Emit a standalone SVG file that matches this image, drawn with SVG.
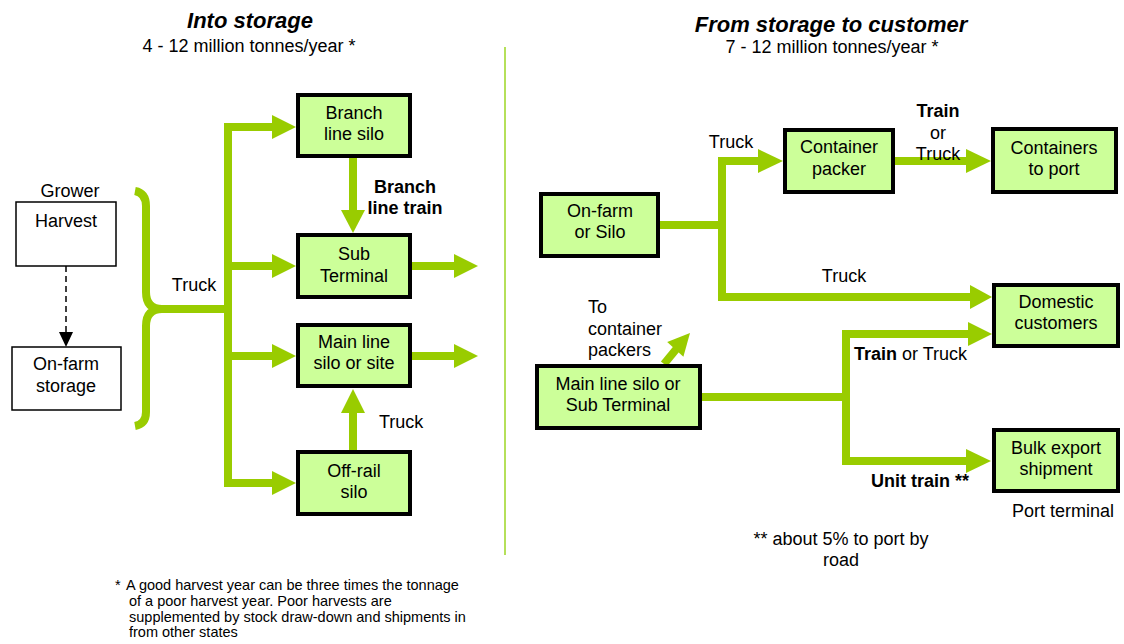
<svg xmlns="http://www.w3.org/2000/svg" width="1124" height="644" viewBox="0 0 1124 644">
<style>
text{font-family:"Liberation Sans",Arial,sans-serif;font-size:18px;fill:#000}
.t{font-size:22px;font-weight:bold;font-style:italic}
.c{text-anchor:middle}
.b{font-weight:bold}
.fn{font-size:14.5px}
.box{fill:#ccff99;stroke:#000;stroke-width:4}
.wbox{fill:#fff;stroke:#000;stroke-width:1.5}
.g{fill:none;stroke:#99cc00;stroke-width:8;stroke-linejoin:miter}
.h{fill:#99cc00}
</style>
<rect width="1124" height="644" fill="#fff"/>
<line x1="505" y1="47" x2="505" y2="555" stroke="#b5e05a" stroke-width="2"/>

<g id="titles">
<text class="t c" x="250" y="28">Into storage</text>
<text class="c" x="249" y="52">4 - 12 million tonnes/year *</text>
<text class="t c" x="831" y="32">From storage to customer</text>
<text class="c" x="832" y="53">7 - 12 million tonnes/year *</text>
</g>

<g id="connectors">
<line x1="66" y1="266" x2="66" y2="333" stroke="#000" stroke-width="1.5" stroke-dasharray="6 4"/>
<polygon points="59,332 73,332 66,347" fill="#000"/>
<path class="g" d="M135 191 Q146 193 146 206 L146 292 Q146 309 162 309 Q146 309 146 326 L146 412 Q146 424 135 426"/>
<line class="g" x1="160" y1="309" x2="228" y2="309"/>
<path class="g" d="M274 127 L228 127 L228 483 L274 483"/>
<polygon class="h" points="272,115 296,127 272,139"/>
<polygon class="h" points="272,471 296,483 272,495"/>
<line class="g" x1="228" y1="266" x2="274" y2="266"/>
<polygon class="h" points="272,254 296,266 272,278"/>
<line class="g" x1="228" y1="356" x2="274" y2="356"/>
<polygon class="h" points="272,344 296,356 272,368"/>
<line class="g" x1="353" y1="158" x2="353" y2="212"/>
<polygon class="h" points="341,210 365,210 353,233"/>
<line class="g" x1="412" y1="266" x2="456" y2="266"/>
<polygon class="h" points="454,254 478,266 454,278"/>
<line class="g" x1="412" y1="356" x2="456" y2="356"/>
<polygon class="h" points="454,344 478,356 454,368"/>
<line class="g" x1="353" y1="450" x2="353" y2="411"/>
<polygon class="h" points="341,413 365,413 353,389"/>

<line class="g" x1="660" y1="225" x2="722" y2="225"/>
<path class="g" d="M760 161 L722 161 L722 297 L972 297"/>
<polygon class="h" points="758,149 783,161 758,173"/>
<polygon class="h" points="970,285 992,297 970,309"/>
<line class="g" x1="895" y1="161" x2="968" y2="161"/>
<polygon class="h" points="966,149 991,161 966,173"/>
<line class="g" x1="702" y1="397" x2="846" y2="397"/>
<path class="g" d="M970 334 L846 334 L846 461 L968 461"/>
<polygon class="h" points="968,322 992,334 968,346"/>
<polygon class="h" points="966,449 991,461 966,473"/>
<line class="g" x1="664" y1="364" x2="678" y2="347"/>
<polygon class="h" points="690,333 683.4,356.7 667.2,341.9"/>
</g>

<g id="labels">
<text x="70" y="197" class="c">Grower</text>
<text x="194" y="291" class="c">Truck</text>
<text x="405" y="193" class="c b">Branch</text>
<text x="405" y="214" class="c b">line train</text>
<text x="379" y="428">Truck</text>
<text x="731" y="148" class="c">Truck</text>
<text x="938" y="117" class="c b">Train</text>
<text x="938" y="139" class="c">or</text>
<text x="938" y="160" class="c">Truck</text>
<text x="844" y="282" class="c">Truck</text>
<text x="588" y="313">To</text>
<text x="588" y="335">container</text>
<text x="588" y="356">packers</text>
<text x="854" y="360"><tspan class="b">Train</tspan> or Truck</text>
<text x="871" y="487" class="b">Unit train **</text>
<text x="1012" y="517">Port terminal</text>
<text x="841" y="545" class="c">** about 5% to port by</text>
<text x="841" y="566" class="c">road</text>
</g>

<g id="footnote">
<text class="fn" x="115" y="590">*</text>
<text class="fn" x="126" y="590">A good harvest year can be three times the tonnage</text>
<text class="fn" x="129" y="606">of a poor harvest year. Poor harvests are</text>
<text class="fn" x="129" y="622">supplemented by stock draw-down and shipments in</text>
<text class="fn" x="129" y="637">from other states</text>
</g>

<g id="harvest"><rect class="wbox" x="16" y="202" width="100" height="64"/><text class="c" x="66" y="227">Harvest</text></g>
<g id="onfarm-storage"><rect class="wbox" x="12" y="347" width="109" height="63"/><text class="c" x="66" y="370">On-farm</text><text class="c" x="66" y="392">storage</text></g>
<g id="branch-line-silo"><rect class="box" x="298" y="95" width="112" height="61"/><text class="c" x="354" y="119">Branch</text><text class="c" x="354" y="140">line silo</text></g>
<g id="sub-terminal"><rect class="box" x="298" y="235" width="112" height="62"/><text class="c" x="354" y="260">Sub</text><text class="c" x="354" y="282">Terminal</text></g>
<g id="main-line-silo"><rect class="box" x="298" y="325" width="112" height="61"/><text class="c" x="354" y="348">Main line</text><text class="c" x="354" y="369">silo or site</text></g>
<g id="off-rail-silo"><rect class="box" x="298" y="452" width="112" height="62"/><text class="c" x="354" y="477">Off-rail</text><text class="c" x="354" y="498">silo</text></g>

<g id="onfarm-or-silo"><rect class="box" x="541" y="194" width="117" height="62"/><text class="c" x="600" y="217">On-farm</text><text class="c" x="600" y="238">or Silo</text></g>
<g id="container-packer"><rect class="box" x="785" y="130" width="108" height="62"/><text class="c" x="839" y="153">Container</text><text class="c" x="839" y="175">packer</text></g>
<g id="containers-to-port"><rect class="box" x="993" y="129" width="123" height="63"/><text class="c" x="1054" y="154">Containers</text><text class="c" x="1054" y="175">to port</text></g>
<g id="domestic-customers"><rect class="box" x="994" y="285" width="124" height="61"/><text class="c" x="1056" y="308">Domestic</text><text class="c" x="1056" y="329">customers</text></g>
<g id="bulk-export"><rect class="box" x="994" y="430" width="124" height="61"/><text class="c" x="1056" y="454">Bulk export</text><text class="c" x="1056" y="475">shipment</text></g>
<g id="main-line-silo-sub-terminal"><rect class="box" x="537" y="366" width="163" height="62"/><text class="c" x="618" y="390">Main line silo or</text><text class="c" x="618" y="411">Sub Terminal</text></g>
</svg>
